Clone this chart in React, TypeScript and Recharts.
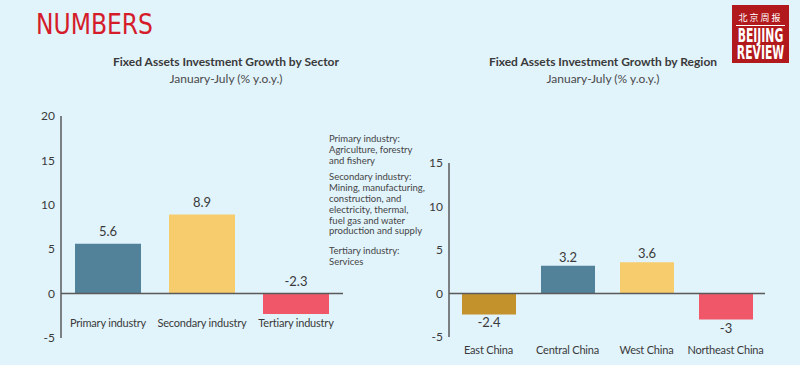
import React from 'react';
import { Bar, BarChart, Cell, LabelList, ReferenceLine, XAxis, YAxis } from 'recharts';

// Sector chart
const sectorCategories = ['Primary industry', 'Secondary industry', 'Tertiary industry'];
const sectorValues = [5.6, 8.9, -2.3];
const sectorTicks = [-5, 0, 5, 10, 15, 20];

// Region chart
const regionCategories = ['East China', 'Central China', 'West China', 'Northeast China'];
const regionValues = [-2.4, 3.2, 3.6, -3];
const regionTicks = [-5, 0, 5, 10, 15];

const sectorColors = ['#52819A', '#F7CC6D', '#F0586A'];
const regionColors = ['#C4922D', '#52819A', '#F7CC6D', '#F0586A'];

const notes = [
	['Primary industry:', 'Agriculture, forestry', 'and fishery'],
	['Secondary industry:', 'Mining, manufacturing,', 'construction, and', 'electricity, thermal,', 'fuel gas and water', 'production and supply'],
	['Tertiary industry:', 'Services'],
];

const FONT = 'Lato, "Open Sans", sans-serif';
const NARROW = '"Liberation Sans Narrow", "DejaVu Sans Condensed", sans-serif';
const TEXT = '#3a3a3a';
const AXIS = '#5a5a5a';

const sectorData = sectorCategories.map((name, i) => ({ name, value: sectorValues[i] }));
const regionData = regionCategories.map((name, i) => ({ name, value: regionValues[i] }));

function CategoryTick({ x, y, payload, dy }: any) {
	return (
		<text x={x} y={y} dy={dy} textAnchor="middle" fontSize={11} fill={TEXT} fontFamily={FONT} letterSpacing={-0.2}>
			{payload.value}
		</text>
	);
}

// value label above bar; below for negatives when `below` is set
function makeValueLabel(below: boolean, gap: number) {
	return function ValueLabel(props: any) {
		const { x, y, width, height, value } = props;
		const top = Math.min(y, y + height);
		const bottom = Math.max(y, y + height);
		const neg = value < 0;
		const ty = neg && below ? bottom + gap + 9 : top - gap;
		return (
			<text x={x + width / 2} y={ty} textAnchor="middle" fontSize={13} fill={TEXT} fontFamily={FONT}>
				{value}
			</text>
		);
	};
}

function Logo() {
	return (
		<svg width={57} height={58} style={{ position: 'absolute', left: 732, top: 5 }}>
			<rect x={0} y={0} width={57} height={58} fill="#B2191C" />
			<text x={28.5} y={16} textAnchor="middle" fontSize={9} fill="#fff" fontFamily='"Noto Sans CJK SC", sans-serif' letterSpacing={2}>
				北京周报
			</text>
			<line x1={4} y1={20.5} x2={53} y2={20.5} stroke="#fff" strokeWidth={1} />
			<g transform="translate(28.5 0) scale(0.6 1)">
				<text x={0} y={37} textAnchor="middle" fontSize={20} fontWeight="bold" fill="#fff" fontFamily={NARROW}>
					BEIJING
				</text>
				<text x={0} y={54} textAnchor="middle" fontSize={20} fontWeight="bold" fill="#fff" fontFamily={NARROW}>
					REVIEW
				</text>
			</g>
		</svg>
	);
}

function Heading({ title, cx }: { title: string; cx: number }) {
	return (
		<div style={{ position: 'absolute', left: cx - 160, top: 53, width: 320, textAlign: 'center', fontFamily: FONT, color: TEXT }}>
			<div style={{ fontSize: 12, fontWeight: 700, lineHeight: '17px' }}>{title}</div>
			<div style={{ fontSize: 12, lineHeight: '17px', color: '#4a4a4a' }}>January-July (% y.o.y.)</div>
		</div>
	);
}

export default function App() {
	return (
		<div style={{ position: 'absolute', left: 0, top: 0, width: 800, height: 365, background: '#E1F3FB', overflow: 'hidden' }}>
			<svg width={140} height={40} style={{ position: 'absolute', left: 34, top: 4 }}>
				<text x={2} y={30} fontSize={29} fill="#D51C2A" fontFamily={NARROW} textLength={117} lengthAdjust="spacingAndGlyphs">
					NUMBERS
				</text>
			</svg>
			<Logo />
			<Heading title="Fixed Assets Investment Growth by Sector" cx={226} />
			<Heading title="Fixed Assets Investment Growth by Region" cx={603} />

			<div style={{ position: 'absolute', left: 329, top: 134, fontFamily: FONT, fontSize: 9.5, color: '#454545', lineHeight: '10.8px' }}>
				{notes.map((group, i) => (
					<div key={i} style={{ marginBottom: i === 0 ? 6 : 9 }}>
						{group.map((line) => (
							<div key={line}>{line}</div>
						))}
					</div>
				))}
			</div>

			<div style={{ position: 'absolute', left: 0, top: 100 }}>
				<BarChart width={360} height={250} data={sectorData} margin={{ top: 16, right: 17, bottom: 0, left: 0 }}>
					<XAxis dataKey="name" axisLine={false} tickLine={false} height={12} interval={0} tick={<CategoryTick dy={-19} />} />
					<YAxis
						domain={[-5, 20]}
						ticks={sectorTicks}
						width={61}
						tickLine={false}
						tickMargin={0}
						axisLine={{ stroke: AXIS, strokeWidth: 1.5 }}
						tick={{ fontSize: 12, fill: TEXT, fontFamily: FONT }}
					/>
					<Bar dataKey="value" barSize={66} isAnimationActive={false}>
						{sectorData.map((d, i) => (
							<Cell key={d.name} fill={sectorColors[i]} />
						))}
						<LabelList dataKey="value" content={makeValueLabel(false, 8)} />
					</Bar>
					<ReferenceLine y={0} stroke={AXIS} strokeWidth={1.5} />
				</BarChart>
			</div>

			<div style={{ position: 'absolute', left: 400, top: 140 }}>
				<BarChart width={400} height={225} data={regionData} margin={{ top: 23, right: 35, bottom: 0, left: 0 }}>
					<XAxis dataKey="name" axisLine={false} tickLine={false} height={28} interval={0} tick={<CategoryTick dy={9} />} />
					<YAxis
						domain={[-5, 15]}
						ticks={regionTicks}
						width={49}
						tickLine={false}
						tickMargin={0}
						axisLine={{ stroke: AXIS, strokeWidth: 1.5 }}
						tick={{ fontSize: 12, fill: TEXT, fontFamily: FONT }}
					/>
					<Bar dataKey="value" barSize={54} isAnimationActive={false}>
						{regionData.map((d, i) => (
							<Cell key={d.name} fill={regionColors[i]} />
						))}
						<LabelList dataKey="value" content={makeValueLabel(true, 4)} />
					</Bar>
					<ReferenceLine y={0} stroke={AXIS} strokeWidth={1.5} />
				</BarChart>
			</div>
		</div>
	);
}
